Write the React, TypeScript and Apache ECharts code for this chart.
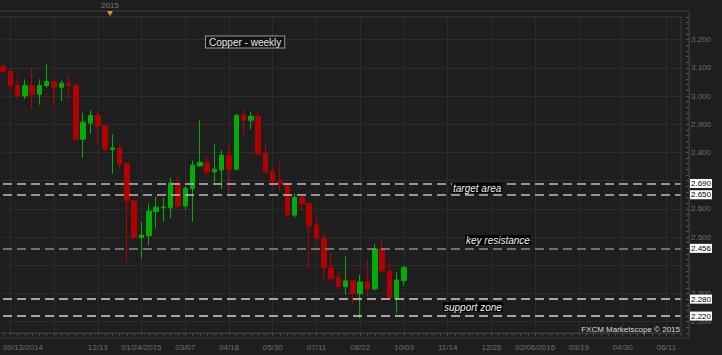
import React, { useEffect, useRef } from "react";
import * as echarts from "echarts";

// ---- categories: weekly bars starting 09/13/2014 ----
const START_DATE = "2014-09-13";
const WEEK_COUNT = 94;
const weekDates: string[] = Array.from({ length: WEEK_COUNT }, (_, i) => {
  const d = new Date(Date.parse(START_DATE + "T00:00:00Z") + i * 7 * 86400000);
  return d.toISOString().slice(0, 10);
});

// ---- weekly copper OHLC ----
const opens = [
  3.105, 3.088, 3.037, 3.0, 3.037, 3.006, 3.037, 3.052, 3.031, 3.045,
  3.037, 2.847, 2.904, 2.931, 2.894, 2.811, 2.816, 2.761, 2.629, 2.498,
  2.505, 2.59, 2.604, 2.604, 2.69, 2.61, 2.671, 2.752, 2.765, 2.731,
  2.738, 2.79, 2.74, 2.932, 2.914, 2.928, 2.797, 2.734, 2.699, 2.69,
  2.578, 2.641, 2.619, 2.543, 2.494, 2.391, 2.357, 2.325, 2.345, 2.299,
  2.341, 2.317, 2.458, 2.38, 2.284, 2.346,
];
const closes = [
  3.087, 3.037, 3.0, 3.037, 3.006, 3.037, 3.052, 3.031, 3.045, 3.037,
  2.847, 2.907, 2.931, 2.894, 2.812, 2.816, 2.759, 2.629, 2.498, 2.507,
  2.592, 2.606, 2.606, 2.692, 2.61, 2.673, 2.755, 2.765, 2.731, 2.74,
  2.79, 2.74, 2.932, 2.914, 2.928, 2.795, 2.731, 2.696, 2.688, 2.578,
  2.641, 2.617, 2.54, 2.493, 2.39, 2.352, 2.325, 2.345, 2.299, 2.341,
  2.317, 2.458, 2.38, 2.284, 2.348, 2.392,
];
const lows = [
  3.08, 3.02, 2.987, 2.99, 2.953, 2.969, 3.029, 2.966, 2.982, 2.989,
  2.845, 2.781, 2.867, 2.831, 2.805, 2.725, 2.742, 2.41, 2.492, 2.424,
  2.47, 2.53, 2.554, 2.567, 2.605, 2.596, 2.554, 2.75, 2.713, 2.692,
  2.67, 2.651, 2.738, 2.863, 2.882, 2.79, 2.725, 2.672, 2.664, 2.569,
  2.569, 2.594, 2.387, 2.482, 2.354, 2.337, 2.313, 2.295, 2.264, 2.211,
  2.292, 2.311, 2.378, 2.278, 2.231, 2.328,
];
const highs = [
  3.115, 3.09, 3.065, 3.059, 3.102, 3.059, 3.112, 3.055, 3.055, 3.076,
  3.047, 2.94, 2.949, 2.943, 2.896, 2.864, 2.828, 2.763, 2.631, 2.554,
  2.619, 2.643, 2.639, 2.711, 2.716, 2.68, 2.772, 2.914, 2.79, 2.831,
  2.808, 2.823, 2.935, 2.955, 2.946, 2.946, 2.835, 2.745, 2.767, 2.692,
  2.655, 2.645, 2.621, 2.575, 2.516, 2.446, 2.378, 2.431, 2.347, 2.366,
  2.419, 2.476, 2.496, 2.416, 2.376, 2.398,
];

// ---- levels and axis ticks ----
const levelValues = [2.69, 2.65, 2.456, 2.28, 2.22];
const levelColors = ["#bdbdbd", "#bdbdbd", "#8c8c8c", "#d2d2d2", "#d2d2d2"];
const lastPrice = 2.392;
const priceGridValues = [2.2, 2.3, 2.4, 2.5, 2.6, 2.7, 2.8, 2.9, 3.0, 3.1, 3.2];
// axis labels fully hidden behind the level boxes in the reference
const coveredAxisLabels = [2.4, 2.7];
const Y_MIN = 2.16;
const Y_MAX = 3.28;
const Y_STEP = 0.02;

const FONT = "'Liberation Sans', Arial, sans-serif";

function isLabelIndex(i: number) {
  return i === 0 || (i >= 13 && (i - 13) % 6 === 0);
}
function fmtDate(iso: string, full: boolean) {
  const [y, m, d] = iso.split("-");
  return full ? `${m}/${d}/${y}` : `${m}/${d}`;
}

export default function App() {
  const ref = useRef<HTMLDivElement>(null);

  useEffect(() => {
    document.body.style.margin = "0";
    document.body.style.background = "#1e1e1e";
    if (!ref.current) return;
    const chart = echarts.init(ref.current, undefined, { renderer: "svg" });

    const candleData = opens.map((o, i) => [o, closes[i], lows[i], highs[i]]);

    const option: any = {
      animation: false,
      backgroundColor: "#1e1e1e",
      textStyle: { fontFamily: FONT },
      grid: { left: 1, right: 41, top: 17, bottom: 22, containLabel: false },
      xAxis: {
        type: "category",
        data: weekDates,
        boundaryGap: false,
        axisLine: { show: true, lineStyle: { color: "#3d3d3d" } },
        axisTick: { show: true, interval: 0, length: 3, lineStyle: { color: "#4a4a4a" } },
        axisLabel: {
          interval: (i: number) => isLabelIndex(i),
          color: "#6e6e6e",
          fontSize: 8,
          margin: 10,
          alignMinLabel: "left",
          formatter: (v: string, i: number) => {
            if (i === 0) return fmtDate(v, true);
            const prev = weekDates[i - 6];
            const full = !!prev && prev.slice(0, 4) !== v.slice(0, 4);
            return fmtDate(v, full);
          },
        },
        splitLine: {
          show: true,
          interval: (i: number) => i >= 1 && (i - 1) % 6 === 0,
          lineStyle: { color: "#2b2b2b", width: 1 },
        },
      },
      yAxis: {
        type: "value",
        position: "right",
        offset: 8,
        min: Y_MIN,
        max: Y_MAX,
        interval: Y_STEP,
        scale: true,
        axisLine: { show: true, lineStyle: { color: "#3d3d3d" } },
        axisTick: { show: true, inside: true, length: 3, lineStyle: { color: "#555" } },
        splitLine: { show: false },
        axisLabel: {
          color: "#6e6e6e",
          fontSize: 8,
          margin: 2,
          showMinLabel: true,
          showMaxLabel: true,
          formatter: (v: number) => {
            if (Math.abs(v * 10 - Math.round(v * 10)) > 1e-6) return "";
            if (coveredAxisLabels.some((c) => Math.abs(c - v) < 1e-6)) return "";
            return v.toFixed(3);
          },
        },
      },
      series: [
        {
          type: "line",
          data: [],
          silent: true,
          markLine: {
            silent: true,
            z: 1,
            symbol: ["none", "none"],
            label: { show: false },
            lineStyle: { color: "#2b2b2b", width: 1, type: "solid" },
            emphasis: { disabled: true },
            data: priceGridValues.map((v) => ({ yAxis: v })),
          },
        },
        {
          type: "candlestick",
          data: candleData,
          barWidth: 5,
          z: 2,
          itemStyle: {
            color: "#00ad00",
            color0: "#b00000",
            borderColor: "#00ad00",
            borderColor0: "#b00000",
            borderWidth: 1,
          },
        },
        {
          type: "line",
          data: [],
          silent: true,
          clip: false,
          markLine: {
            silent: true,
            z: 5,
            symbol: ["none", "none"],
            emphasis: { disabled: true },
            data: [
              ...levelValues.map((v, i) => ({
                yAxis: v,
                lineStyle: { color: levelColors[i], width: 1.5, type: [9, 5] },
                label: {
                  show: true,
                  position: "end",
                  distance: 9,
                  formatter: () => v.toFixed(3),
                  backgroundColor: "#ffffff",
                  color: "#000000",
                  fontSize: 8,
                  lineHeight: 8,
                  fontFamily: FONT,
                  padding: [1, 1, 0, 1],
                },
              })),
              {
                yAxis: lastPrice,
                lineStyle: { opacity: 0, width: 0 },
                label: {
                  show: true,
                  position: "end",
                  distance: 9,
                  formatter: () => lastPrice.toFixed(3),
                  backgroundColor: "#3399ee",
                  color: "#0a1a40",
                  fontSize: 8,
                  lineHeight: 8,
                  fontFamily: FONT,
                  padding: [1, 1, 0, 1],
                },
              },
            ],
          },
        },
      ],
      graphic: [
        {
          type: "rect",
          silent: true,
          z: 10,
          shape: { x: -1, y: 11, width: 690, height: 327 },
          style: { fill: "none", stroke: "#3d3d3d", lineWidth: 1 },
        },
        {
          type: "rect",
          silent: true,
          z: 10,
          shape: { x: -1, y: 17, width: 682, height: 316 },
          style: { fill: "none", stroke: "#3a3a3a", lineWidth: 1 },
        },
        {
          type: "text",
          silent: true,
          z: 10,
          style: {
            text: "2015",
            x: 110,
            y: 5,
            fill: "#777777",
            font: `8px ${FONT}`,
            align: "center",
            verticalAlign: "middle",
          },
        },
        {
          type: "polygon",
          silent: true,
          z: 10,
          shape: { points: [[107, 11], [113, 11], [110, 16]] },
          style: { fill: "#d4a010" },
        },
        {
          type: "text",
          silent: true,
          z: 10,
          style: {
            text: "Copper - weekly",
            x: 206,
            y: 42,
            fill: "#e6e6e6",
            font: `10px ${FONT}`,
            align: "left",
            verticalAlign: "middle",
            backgroundColor: "#111111",
            borderColor: "#9a9a9a",
            borderWidth: 1,
            padding: [1, 3, 0, 3],
          },
        },
        {
          type: "text",
          silent: true,
          z: 10,
          style: {
            text: "target area",
            x: 452,
            y: 188,
            fill: "#f0f0f0",
            font: `italic 10px ${FONT}`,
            align: "left",
            verticalAlign: "middle",
            backgroundColor: "#000000",
            padding: [0, 1],
          },
        },
        {
          type: "text",
          silent: true,
          z: 10,
          style: {
            text: "key resistance",
            x: 465,
            y: 240,
            fill: "#f0f0f0",
            font: `italic 10px ${FONT}`,
            align: "left",
            verticalAlign: "middle",
            backgroundColor: "#000000",
            padding: [0, 1],
          },
        },
        {
          type: "text",
          silent: true,
          z: 10,
          style: {
            text: "support zone",
            x: 443,
            y: 307,
            fill: "#f0f0f0",
            font: `italic 10px ${FONT}`,
            align: "left",
            verticalAlign: "middle",
            backgroundColor: "#000000",
            padding: [0, 1],
          },
        },
        {
          type: "text",
          silent: true,
          z: 10,
          style: {
            text: "FXCM Marketscope © 2015",
            x: 680,
            y: 329,
            fill: "#dcdcdc",
            font: `8px ${FONT}`,
            align: "right",
            verticalAlign: "middle",
          },
        },
      ],
    };

    chart.setOption(option);
    return () => chart.dispose();
  }, []);

  return <div ref={ref} style={{ width: 722, height: 355, background: "#1e1e1e" }} />;
}
